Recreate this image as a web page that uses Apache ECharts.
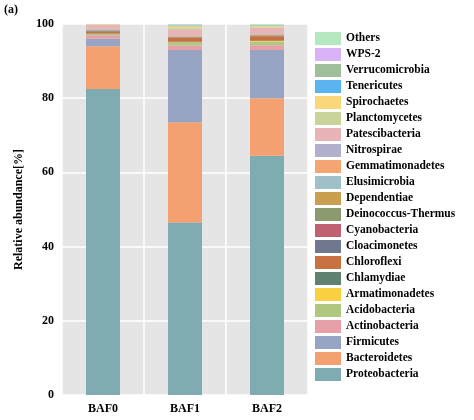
<!DOCTYPE html>
<html><head><meta charset="utf-8">
<script src="https://cdn.jsdelivr.net/npm/echarts@6/dist/echarts.min.js"></script>
<style>body{margin:0}#c{width:474px;height:420px}</style></head>
<body><div id="c"></div>
<script>
var samples = ["BAF0", "BAF1", "BAF2"];
var taxa = ["Proteobacteria", "Bacteroidetes", "Firmicutes", "Actinobacteria", "Acidobacteria",
  "Armatimonadetes", "Chlamydiae", "Chloroflexi", "Cloacimonetes", "Cyanobacteria",
  "Deinococcus-Thermus", "Dependentiae", "Elusimicrobia", "Gemmatimonadetes", "Nitrospirae",
  "Patescibacteria", "Planctomycetes", "Spirochaetes", "Tenericutes", "Verrucomicrobia", "WPS-2", "Others"];
var colors = ["#7eacb0", "#f4a070", "#98a4c4", "#e8a0a8", "#b0c880", "#f8d040", "#608070", "#c87040",
  "#707890", "#c06070", "#8c9a70", "#c8a050", "#a0c0c8", "#f5a572", "#b0b0cc", "#e8b4b8",
  "#c8d49a", "#f9d77a", "#5ab4f0", "#9fbf9a", "#d9b3f5", "#b6e8c0"];
var values = [
  [82.5, 46.5, 64.5],
  [11.5, 27.0, 15.5],
  [2.0, 19.5, 13.0],
  [1.0, 1.2, 1.3],
  [0.3, 0.8, 1.0],
  [0.1, 0.1, 0.1],
  [0.1, 0.1, 0.1],
  [0.5, 1.0, 1.2],
  [0.1, 0.1, 0.1],
  [0.1, 0.1, 0.1],
  [0.1, 0.1, 0.1],
  [0.1, 0.1, 0.1],
  [0.1, 0.1, 0.1],
  [0.1, 0.2, 0.2],
  [0.1, 0.1, 0.1],
  [1.0, 1.5, 1.5],
  [0.2, 0.4, 0.3],
  [0.1, 0.5, 0.2],
  [0.1, 0.1, 0.1],
  [0.1, 0.1, 0.1],
  [0.1, 0.1, 0.1],
  [0.8, 0.4, 0.5]
];
var font = "Liberation Serif";
var chart = echarts.init(document.getElementById("c"));
chart.setOption({
  animation: false,
  textStyle: { fontFamily: font },
  graphic: [{ type: "text", left: 4, top: 4, style: { text: "(a)", font: "bold 12px " + font, fill: "#000" } }],
  grid: { left: 62, right: 166, top: 24, bottom: 25, backgroundColor: "#e5e5e5", show: true, borderWidth: 0 },
  legend: {
    data: taxa.slice().reverse(), orient: "vertical", left: 310, top: 27,
    itemWidth: 26, itemHeight: 13, itemGap: 3, icon: "rect",
    textStyle: { fontFamily: font, fontSize: 11.5, fontWeight: "bold", color: "#000" }
  },
  xAxis: {
    type: "category", data: samples,
    axisLine: { show: false }, axisTick: { show: false },
    splitLine: { show: true, lineStyle: { color: "#fff", width: 1.5 } },
    axisLabel: { fontFamily: font, fontWeight: "bold", fontSize: 12, color: "#000" }
  },
  yAxis: {
    type: "value", min: 0, max: 100, interval: 20,
    name: "Relative abundance[%]", nameLocation: "middle", nameGap: 30,
    nameTextStyle: { fontFamily: font, fontWeight: "bold", fontSize: 12, color: "#000" },
    axisLine: { show: false }, axisTick: { show: false },
    splitLine: { lineStyle: { color: "#fff", width: 1.5 } },
    axisLabel: { fontFamily: font, fontWeight: "bold", fontSize: 12, color: "#000" }
  },
  series: taxa.map(function (t, i) {
    return { name: t, type: "bar", stack: "s", barWidth: 34, data: values[i],
      itemStyle: { color: colors[i] } };
  })
});
</script></body></html>
